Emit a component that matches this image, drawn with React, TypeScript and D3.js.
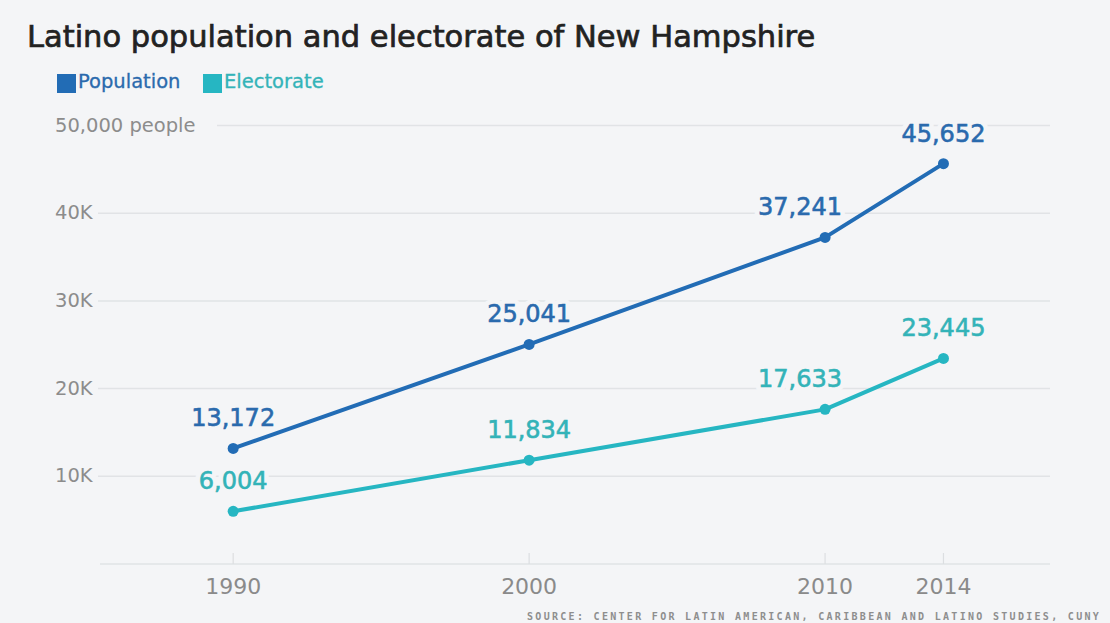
import React from "react";
import * as d3 from "d3";

const years = [1990, 2000, 2010, 2014];
const population = [13172, 25041, 37241, 45652];
const electorate = [6004, 11834, 17633, 23445];
const yTicks = [10000, 20000, 30000, 40000, 50000];
const yTickLabels = ["10K", "20K", "30K", "40K", "50,000 people"];
const seriesNames = ["Population", "Electorate"];
const seriesColors = ["#226cb5", "#26b6c2"];
const labelColors = ["#2a6aad", "#33b3b8"];
const titleText = "Latino population and electorate of New Hampshire";
const sourceText = "SOURCE: CENTER FOR LATIN AMERICAN, CARIBBEAN AND LATINO STUDIES, CUNY";

const W = 1110;
const H = 623;
const BG = "#f4f5f7";
const FONT = "'DejaVu Sans', sans-serif";

export default function App() {
  const x = d3.scaleLinear().domain([1985.5, 2017.6]).range([100, 1050]);
  const y = d3.scaleLinear().domain([0, 50000]).range([564, 125.5]);
  const [x0, x1] = x.range();
  const series = [population, electorate];
  const line = d3
    .line<number>()
    .x((_, i) => x(years[i]))
    .y((d) => y(d));
  const fmt = d3.format(",");

  return (
    <svg
      width={W}
      height={H}
      style={{ position: "absolute", left: 0, top: 0, background: BG }}
      fontFamily={FONT}
    >
      <rect x={0} y={0} width={W} height={H} fill={BG} />
      <text x={27} y={47} fontSize={30.5} fill="#222" stroke="#222" strokeWidth={0.7}>
        {titleText}
      </text>

      {/* legend */}
      {seriesNames.map((name, i) => {
        const lx = i === 0 ? 57 : 203;
        return (
          <g key={name}>
            <rect x={lx} y={74} width={19} height={19} fill={seriesColors[i]} />
            <text x={lx + 21} y={88} fontSize={19.5} fill={labelColors[i]} stroke={labelColors[i]} strokeWidth={0.3}>
              {name}
            </text>
          </g>
        );
      })}

      {/* grid */}
      {yTicks.map((t, i) => (
        <g key={t}>
          <line
            x1={i === yTicks.length - 1 ? 217 : x0 - 2}
            x2={x1}
            y1={y(t)}
            y2={y(t)}
            stroke="#e1e3e6"
            strokeWidth={1.5}
          />
          <text x={55} y={y(t) + 6} fontSize={19.5} fill="#8c8c8c">
            {yTickLabels[i]}
          </text>
        </g>
      ))}

      {/* x axis */}
      <line x1={x0} x2={x1} y1={y(0)} y2={y(0)} stroke="#e1e3e6" strokeWidth={1.5} />
      {years.map((yr) => (
        <g key={yr}>
          <line x1={x(yr)} x2={x(yr)} y1={y(0) - 11} y2={y(0)} stroke="#dcdee1" strokeWidth={1.2} />
          <text x={x(yr)} y={594} fontSize={22} fill="#8a8a8a" textAnchor="middle">
            {yr}
          </text>
        </g>
      ))}

      {/* series */}
      {series.map((vals, s) => (
        <g key={s}>
          <path d={line(vals) || ""} fill="none" stroke={seriesColors[s]} strokeWidth={4} strokeLinejoin="round" />
          {vals.map((v, i) => (
            <circle key={i} cx={x(years[i])} cy={y(v)} r={5.5} fill={seriesColors[s]} />
          ))}
          {vals.map((v, i) => {
            const lx = x(years[i]) + (years[i] === 2010 ? -25 : 0);
            const ly = y(v) - 22;
            return (
              <g key={"l" + i}>
                <text x={lx} y={ly} fontSize={24} textAnchor="middle" fill={BG} stroke={BG} strokeWidth={10} strokeLinejoin="round">
                  {fmt(v)}
                </text>
                <text x={lx} y={ly} fontSize={24} textAnchor="middle" fill={labelColors[s]} stroke={labelColors[s]} strokeWidth={0.6}>
                  {fmt(v)}
                </text>
              </g>
            );
          })}
        </g>
      ))}

      <text
        x={527}
        y={620}
        fontSize={10}
        fontWeight="bold"
        fontFamily="'DejaVu Sans Mono', monospace"
        letterSpacing={2.3}
        fill="#8e8e8e"
      >
        {sourceText}
      </text>
    </svg>
  );
}
